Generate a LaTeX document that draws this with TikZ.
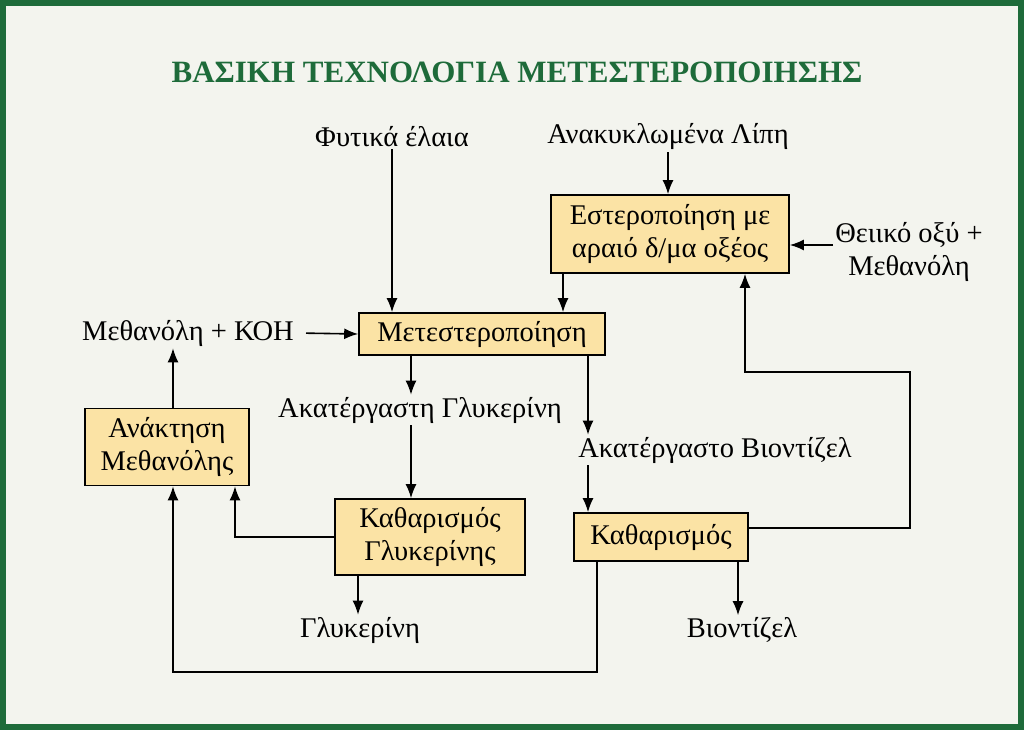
\documentclass[tikz,border=0pt]{standalone}
\usepackage{fontspec}
\setmainfont{Liberation Serif}
\usetikzlibrary{arrows.meta}
\definecolor{frame}{HTML}{1E6B3A}
\definecolor{boxfill}{HTML}{FBE3A5}
\definecolor{paper}{HTML}{F3F4EE}
\tikzset{
  proc/.style={draw, line width=1.6pt, fill=boxfill, align=center, inner sep=4pt},
  lbl/.style={align=center, inner sep=2pt},
  flow/.style={line width=1.6pt, -{Latex[length=14pt,width=11pt]}}
}
\begin{document}
\begin{tikzpicture}[x=1pt, y=-1pt, font=\fontsize{28.5}{33}\selectfont]
\useasboundingbox (0,0) rectangle (1024,730);
\fill[paper] (0,0) rectangle (1024,730);
\draw[frame, line width=6pt] (3,3) rectangle (1021,727);

\node[frame, font=\fontsize{31}{36}\selectfont\bfseries] (title) at (517,72) {ΒΑΣΙΚΗ ΤΕΧΝΟΛΟΓΙΑ ΜΕΤΕΣΤΕΡΟΠΟΙΗΣΗΣ};

% inputs
\node[lbl] (oil) at (392,137) {Φυτικά έλαια};
\node[lbl] (fat) at (668,137) {Ανακυκλωμένα Λίπη};
\node[lbl] (acid) at (909,252) {Θειικό οξύ +\\Μεθανόλη};
\node[lbl] (koh) at (188,333) {Μεθανόλη + ΚΟΗ};

% process boxes
\node[proc, minimum width=238pt, minimum height=78pt] (ester) at (670,234) {Εστεροποίηση με\\αραιό δ/μα οξέος};
\node[proc, minimum width=246pt, minimum height=42pt] (trans) at (482,334) {Μετεστεροποίηση};
\node[proc, minimum width=164pt, minimum height=77pt] (recov) at (167,447) {Ανάκτηση\\Μεθανόλης};
\node[proc, minimum width=190pt, minimum height=76pt] (pglyc) at (430,537) {Καθαρισμός\\Γλυκερίνης};
\node[proc, minimum width=174pt, minimum height=48pt] (pbio) at (661,537) {Καθαρισμός};

% intermediate and final products
\node[lbl] (crglyc) at (420,410) {Ακατέργαστη Γλυκερίνη};
\node[lbl] (crbio) at (715,450) {Ακατέργαστο Βιοντίζελ};
\node[lbl] (glyc) at (360,630) {Γλυκερίνη};
\node[lbl] (bio) at (742,630) {Βιοντίζελ};

% flows
\draw[flow] (oil.south -| 392,0) -- (trans.north -| 392,0);
\draw[flow] (fat.south -| 668,0) -- (ester.north -| 668,0);
\draw[flow] (acid.west |- 0,245) -- (ester.east |- 0,245);
\draw[flow] (ester.south -| 563,0) -- (trans.north -| 563,0);
\draw[flow, shorten <=10pt] (koh.east) -- (trans.west);
\draw[flow] (trans.south -| 411,0) -- (crglyc.north -| 411,0);
\draw[flow] (trans.south -| 588,0) -- (crbio.north -| 588,0);
\draw[flow] (crglyc.south -| 411,0) -- (pglyc.north -| 411,0);
\draw[flow] (crbio.south -| 588,0) -- (pbio.north -| 588,0);
\draw[flow] (pglyc.west) -| (recov.south -| 235,0);
\draw[flow] (pbio.south -| 597,0) -- (597,672) -| (recov.south -| 173,0);
\draw[flow] (pbio.east |- 0,528) -| (910,372) -| (ester.south -| 745,0);
\draw[flow] (pbio.south -| 738,0) -- (bio.north -| 738,0);
\draw[flow] (pglyc.south -| 358,0) -- (glyc.north -| 358,0);
\draw[flow] (recov.north -| 173,0) -- (koh.south -| 173,0);
\end{tikzpicture}
\end{document}
